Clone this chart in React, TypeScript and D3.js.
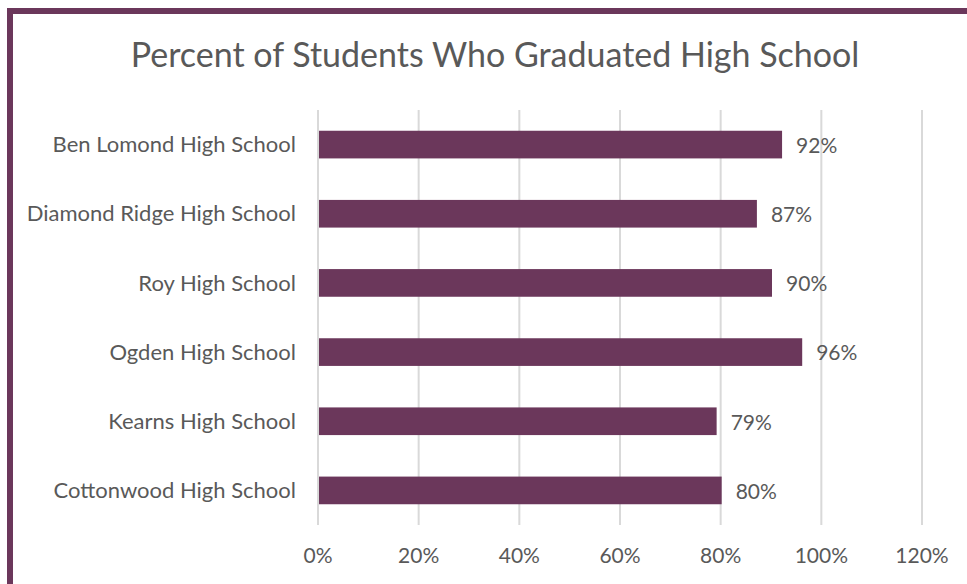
import React from "react";
import * as d3 from "d3";

const categories = [
  "Ben Lomond High School",
  "Diamond Ridge High School",
  "Roy High School",
  "Ogden High School",
  "Kearns High School",
  "Cottonwood High School",
];
const values = [92, 87, 90, 96, 79, 80];
const ticks = [0, 20, 40, 60, 80, 100, 120];
const title = "Percent of Students Who Graduated High School";

const W = 967;
const H = 584;
const FONT = "Lato, 'Open Sans', sans-serif";
const GREY = "#595959";
const BAR = "#6B375B";

export default function App() {
  const left = 318;
  const right = 922;
  const top = 110;
  const bottom = 525;
  const x = d3.scaleLinear().domain([0, 120]).range([left, right]);
  const y = d3
    .scaleBand<string>()
    .domain(categories)
    .range([top, bottom])
    .paddingInner(0.6)
    .paddingOuter(0.3);

  return (
    <svg
      width={W}
      height={H}
      style={{ position: "absolute", left: 0, top: 0, background: "#fff" }}
    >
      <rect x={0} y={0} width={W} height={H} fill="#fff" />
      <rect
        x={10}
        y={11}
        width={W + 20}
        height={H + 20}
        fill="none"
        stroke={BAR}
        strokeWidth={6}
      />
      <text
        x={495}
        y={67}
        textAnchor="middle"
        fontFamily={FONT}
        fontSize={34}
        fill={GREY}
      >
        {title}
      </text>
      {ticks.map((t) => (
        <g key={t}>
          <line
            x1={x(t)}
            x2={x(t)}
            y1={top}
            y2={bottom}
            stroke="#D9D9D9"
            strokeWidth={2}
          />
          <text
            x={x(t)}
            y={563}
            textAnchor="middle"
            fontFamily={FONT}
            fontSize={21}
            fill={GREY}
          >
            {t}%
          </text>
        </g>
      ))}
      {categories.map((c, i) => {
        const yc = (y(c) as number) + y.bandwidth() / 2;
        return (
          <g key={c}>
            <rect
              x={x(0) + 1}
              y={y(c)}
              width={x(values[i]) - x(0)}
              height={y.bandwidth()}
              fill={BAR}
            />
            <text
              x={296}
              y={yc}
              dy="0.35em"
              textAnchor="end"
              fontFamily={FONT}
              fontSize={22}
              fill={GREY}
            >
              {c}
            </text>
            <text
              x={x(values[i]) + 15}
              y={yc + 1}
              dy="0.35em"
              fontFamily={FONT}
              fontSize={21}
              fill={GREY}
            >
              {values[i]}%
            </text>
          </g>
        );
      })}
    </svg>
  );
}
